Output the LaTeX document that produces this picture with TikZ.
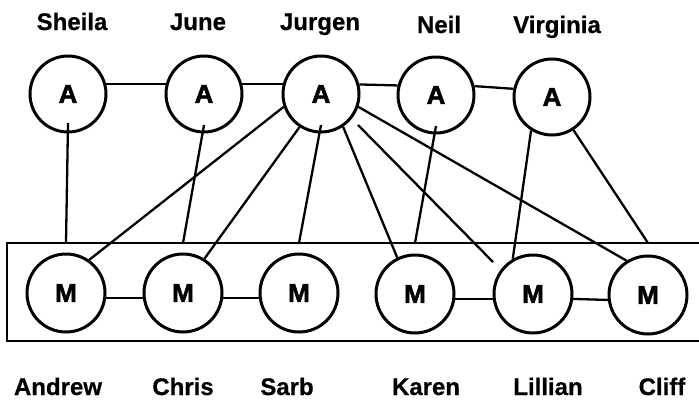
\documentclass[tikz,border=0pt]{standalone}
\usepackage{fontspec}
\setmainfont{Liberation Sans}
\newfontfamily\heavyfont[FakeBold=2]{Liberation Sans Bold}
\newfontfamily\labelfont[FakeBold=0.6]{Liberation Sans Bold}
\begin{document}
\begin{tikzpicture}[x=1pt,y=-1pt,
  agent/.style={circle,draw,line width=3pt,minimum size=76pt,inner sep=0pt,
    font=\fontsize{26}{28}\heavyfont},
  member/.style={circle,draw,line width=3pt,minimum size=78pt,inner sep=0pt,
    font=\fontsize{26}{28}\heavyfont},
  pname/.style={anchor=base,inner sep=0pt,font=\fontsize{24}{26}\labelfont},
  link/.style={line width=2.3pt},
  frame/.style={line width=2.8pt}]
\useasboundingbox (0,0) rectangle (699,402);

% upper row of A nodes
\node[agent] (Sheila)   at (68,94)  {A};
\node[agent] (June)     at (204,94) {A};
\node[agent] (Jurgen)   at (321,94) {A};
\node[agent] (Neil)     at (436,95) {A};
\node[agent] (Virginia) at (552,97) {A};

% lower row of M nodes
\node[member] (Andrew)  at (66,293)  {M};
\node[member] (Chris)   at (183,293) {M};
\node[member] (Sarb)    at (299,293) {M};
\node[member] (Karen)   at (415,294) {M};
\node[member] (Lillian) at (533,294) {M};
\node[member] (Cliff)   at (648,295) {M};

% names
\node[pname] (nSheila)   at (72,30)  {Sheila};
\node[pname] (nJune)     at (198,30) {June};
\node[pname] (nJurgen)   at (320,30) {Jurgen};
\node[pname] (nNeil)     at (439,33) {Neil};
\node[pname] (nVirginia) at (557,33) {Virginia};
\node[pname] (nAndrew)  at (58,395)  {Andrew};
\node[pname] (nChris)   at (183,395) {Chris};
\node[pname] (nSarb)    at (287,395) {Sarb};
\node[pname] (nKaren)   at (426,395) {Karen};
\node[pname] (nLillian) at (548,395) {Lillian};
\node[pname] (nCliff)   at (662,395) {Cliff};

% open frame around the M row
\coordinate (boxtop) at (0,243);
\draw[frame] (705,243) -- (7,243) -- (7,341) -- (705,341);

% links within the rows
\draw[link] (Sheila.15) -- (June.165);
\draw[link] (June.15) -- (Jurgen.165);
\draw[link] (Jurgen.14) -- (Neil.166);
\draw[link] (Neil.13) -- (Virginia.168);
\draw[link] (Andrew.-7) -- (Chris.187);
\draw[link] (Chris.-7) -- (Sarb.187);
\draw[link] (Karen.-7) -- (Lillian.187);
\draw[link] (Lillian.-7) -- (Cliff.187);

% links between the rows
\draw[link] ([yshift=-29pt]Sheila.center) -- (Andrew |- boxtop);
\draw[link] ([yshift=-31pt]June.center) -- (Chris |- boxtop);
\draw[link] (Jurgen.199) -- (Andrew.55);
\draw[link] (Jurgen.237) -- (Chris.58);
\draw[link] ([yshift=-31pt]Jurgen.center) -- (Sarb |- boxtop);
\draw[link] (Jurgen.304) -- (Karen.116);
\draw[link] ([shift={(37pt,-31pt)}]Jurgen.center) -- ([shift={(-40pt,32pt)}]Lillian.center);
\draw[link] (Jurgen.341) -- (Cliff.122);
\draw[link] ([yshift=-31pt]Neil.center) -- (Karen |- boxtop);
\draw[link] (Virginia.238) -- (Lillian.120);
\draw[link] (Virginia.303) -- (Cliff |- boxtop);
\end{tikzpicture}
\end{document}
